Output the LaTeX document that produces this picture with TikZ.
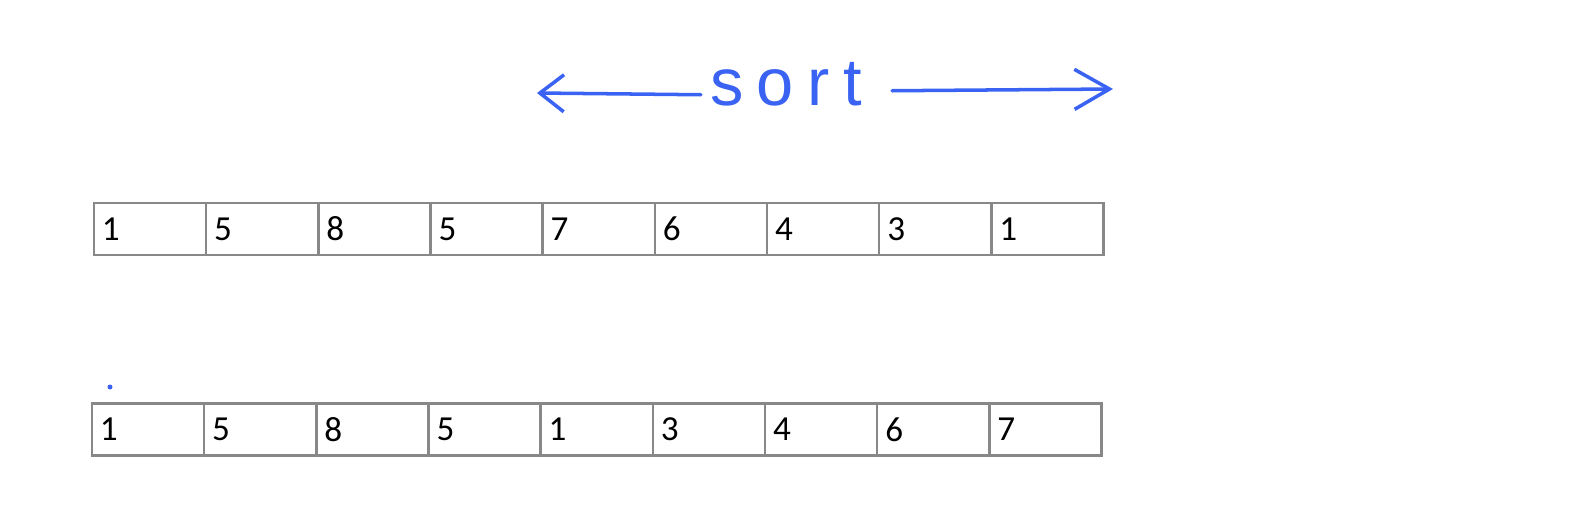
\documentclass[tikz,border=0pt]{standalone}
\usepackage{fontspec}
\usepackage{tikz}
\usetikzlibrary{arrows.meta, positioning}
\newfontfamily\cellfont{Carlito}
\newfontfamily\handfont[LetterSpace=20]{Liberation Sans}
\definecolor{penblue}{RGB}{59,99,243}
\definecolor{cellgray}{RGB}{136,136,136}

\begin{document}
\begin{tikzpicture}[
  x=0.02cm, y=-0.02cm,
  cell/.style={draw=cellgray, line width=1.4pt, outer sep=0pt,
               minimum width=2.244cm, minimum height=1.04cm,
               text width=1.924cm, inner xsep=0.16cm, align=left,
               font=\cellfont\fontsize{20}{22}\selectfont},
  pen/.style={penblue, line width=2pt, line cap=round, line join=round},
  node distance=0pt
]
  \useasboundingbox (0,0) rectangle (1596,518);

  % heading with the two hand drawn arrows
  \node[text=penblue, inner sep=0pt, anchor=base,
        font=\handfont\fontsize{38}{40}\selectfont] (sort) at (786,105) {sort};
  \coordinate (ltip) at (537,93);
  \coordinate (rtip) at (1113,89);
  \draw[pen, -{Straight Barb[length=0.48cm,width=0.74cm]}]
    ([xshift=-0.18cm,yshift=-0.22cm]sort.west) -- (ltip);
  \draw[pen, -{Straight Barb[length=0.7cm,width=0.8cm]}]
    ([xshift=0.6cm,yshift=-0.14cm]sort.east) -- (rtip);

  % unsorted row
  \node[cell, anchor=west] (in1) at (94,229) {1};
  \node[cell, right=of in1] (in2) {5};
  \node[cell, right=of in2] (in3) {8};
  \node[cell, right=of in3] (in4) {5};
  \node[cell, right=of in4] (in5) {7};
  \node[cell, right=of in5] (in6) {6};
  \node[cell, right=of in6] (in7) {4};
  \node[cell, right=of in7] (in8) {3};
  \node[cell, right=of in8] (in9) {1};

  % row after sorting the right half
  \node[cell, anchor=west] (out1) at (92,429.5) {1};
  \node[cell, right=of out1] (out2) {5};
  \node[cell, right=of out2] (out3) {8};
  \node[cell, right=of out3] (out4) {5};
  \node[cell, right=of out4] (out5) {1};
  \node[cell, right=of out5] (out6) {3};
  \node[cell, right=of out6] (out7) {4};
  \node[cell, right=of out7] (out8) {6};
  \node[cell, right=of out8] (out9) {7};

  \fill[penblue] (110,387) circle (0.05cm);
\end{tikzpicture}
\end{document}
